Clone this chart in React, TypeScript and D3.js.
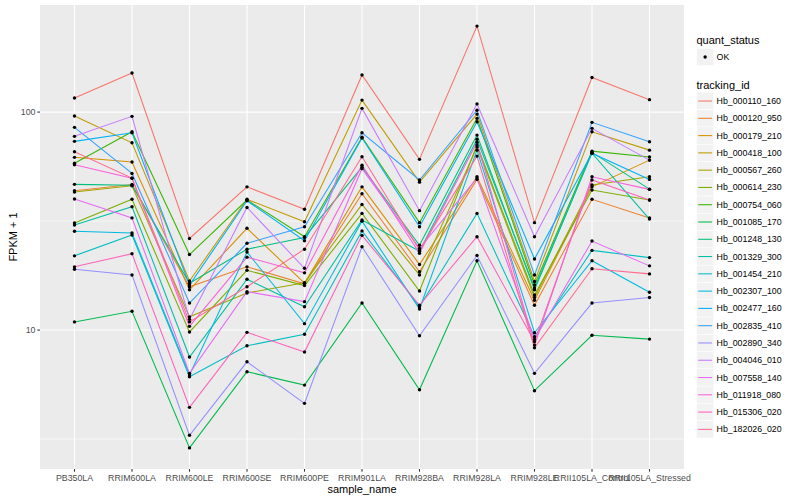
import React from "react";
import * as d3 from "d3";

const samples = [
  "PB350LA", "RRIM600LA", "RRIM600LE", "RRIM600SE", "RRIM600PE", "RRIM901LA",
  "RRIM928BA", "RRIM928LA", "RRIM928LE", "RRII105LA_Control", "RRII105LA_Stressed",
];

const trackingIds = [
  "Hb_000110_160", "Hb_000120_950", "Hb_000179_210", "Hb_000418_100", "Hb_000567_260",
  "Hb_000614_230", "Hb_000754_060", "Hb_001085_170", "Hb_001248_130", "Hb_001329_300",
  "Hb_001454_210", "Hb_002307_100", "Hb_002477_160", "Hb_002835_410", "Hb_002890_340",
  "Hb_004046_010", "Hb_007558_140", "Hb_011918_080", "Hb_015306_020", "Hb_182026_020",
];

// FPKM + 1 per sample, one array per tracking_id
const hb000110_160 = [116, 151, 26.3, 45.4, 35.8, 148, 60.7, 248, 31.1, 144, 114];
const hb000120_950 = [43.6, 46.5, 15.8, 19.5, 16.3, 42.2, 18.5, 49.1, 13.0, 39.8, 32.7];
const hb000179_210 = [62.0, 59.0, 15.3, 29.3, 16.4, 45.4, 20.0, 50.5, 13.7, 45.4, 60.2];
const hb000418_100 = [95.9, 72.3, 16.8, 39.8, 31.4, 113.5, 47.7, 97.9, 16.7, 81.2, 66.9];
const hb000567_260 = [43.0, 45.9, 11.5, 14.8, 16.5, 37.7, 17.9, 69.1, 14.1, 46.3, 50.5];
const hb000614_230 = [31.0, 39.8, 9.8, 18.8, 16.0, 34.3, 15.1, 70.6, 14.5, 43.9, 39.5];
const hb000754_060 = [58.2, 81.2, 22.2, 39.5, 26.8, 76.6, 31.1, 93.6, 16.1, 66.2, 62.2];
const hb001085_170 = [10.9, 12.2, 2.88, 6.44, 5.59, 13.3, 5.32, 20.8, 5.27, 9.46, 9.09];
const hb001248_130 = [46.6, 46.2, 16.4, 23.5, 26.6, 55.9, 24.5, 78.4, 15.3, 65.3, 44.3];
const hb001329_300 = [30.3, 36.8, 7.52, 17.1, 12.8, 32.0, 23.0, 75.0, 15.6, 64.8, 32.3];
const hb001454_210 = [21.9, 27.3, 6.11, 8.47, 9.56, 28.5, 12.8, 34.3, 9.32, 23.2, 21.5];
const hb002307_100 = [28.4, 27.9, 6.22, 22.8, 10.7, 31.6, 12.5, 66.9, 9.72, 20.8, 14.9];
const hb002477_160 = [73.4, 80.4, 16.1, 39.2, 25.7, 76.0, 29.8, 90.3, 21.2, 64.7, 49.1];
const hb002835_410 = [85.1, 52.3, 13.3, 25.0, 29.8, 80.4, 48.8, 102, 17.9, 89.7, 73.1];
const hb002890_340 = [19.0, 17.9, 3.29, 7.15, 4.61, 24.1, 9.42, 22.0, 6.33, 13.3, 14.1];
const hb004046_010 = [77.4, 95.6, 11.2, 36.5, 19.2, 104, 35.3, 109, 26.8, 84.2, 60.2];
const hb007558_140 = [39.9, 32.7, 6.33, 15.0, 13.5, 55.0, 23.7, 49.8, 9.06, 25.6, 19.7];
const hb011918_080 = [57.3, 49.7, 10.4, 21.6, 18.3, 57.1, 22.5, 72.8, 8.53, 50.5, 44.2];
const hb015306_020 = [19.5, 22.4, 4.42, 9.76, 7.93, 27.2, 13.0, 26.8, 8.84, 48.8, 39.5];
const hb182026_020 = [65.8, 49.8, 10.9, 15.8, 23.5, 62.4, 23.3, 62.8, 8.30, 19.1, 18.1];

const seriesValues = [
  hb000110_160, hb000120_950, hb000179_210, hb000418_100, hb000567_260,
  hb000614_230, hb000754_060, hb001085_170, hb001248_130, hb001329_300,
  hb001454_210, hb002307_100, hb002477_160, hb002835_410, hb002890_340,
  hb004046_010, hb007558_140, hb011918_080, hb015306_020, hb182026_020,
];

const yTicks = [10, 100];
const yMinorTicks = [Math.sqrt(10), Math.sqrt(1000)];

const palette = [
  "#F8766D", "#EA8331", "#D89000", "#C09B00", "#A3A500", "#7CAE00", "#39B600",
  "#00BB4E", "#00BF7D", "#00C1A3", "#00BFC4", "#00BAE0", "#00B0F6", "#35A2FF",
  "#9590FF", "#C77CFF", "#E76BF3", "#FA62DB", "#FF62BC", "#FF6C91",
];

const FONT = "'Liberation Sans', Arial, Helvetica, sans-serif";

export default function App() {
  const W = 800, H = 500;
  const left = 40, right = 684, top = 5, bottom = 469;

  const all = seriesValues.flat();
  const lo = Math.log10(d3.min(all) as number);
  const hi = Math.log10(d3.max(all) as number);
  const ex = (hi - lo) * 0.05;

  const x = d3.scalePoint<string>().domain(samples).range([left, right]).padding(0.6);
  const y = d3.scaleLog().domain([10 ** (lo - ex), 10 ** (hi + ex)]).range([bottom, top]);

  const line = d3
    .line<number>()
    .x((_, i) => x(samples[i]) as number)
    .y((v) => y(v));

  const legX = 696.5;
  const keyH = 17.28;
  const keyStart = 92.4;

  return (
    <svg
      width={W}
      height={H}
      style={{ position: "absolute", left: 0, top: 0, background: "#fff" }}
      fontFamily={FONT}
    >
      <rect x={left} y={top} width={right - left} height={bottom - top} fill="#EBEBEB" />
      {yMinorTicks.map((t) => (
        <line key={"mn" + t} x1={left} x2={right} y1={y(t)} y2={y(t)} stroke="#fff" strokeWidth={0.55} />
      ))}
      {yTicks.map((t) => (
        <line key={"mj" + t} x1={left} x2={right} y1={y(t)} y2={y(t)} stroke="#fff" strokeWidth={1.1} />
      ))}
      {samples.map((s) => (
        <line key={"vx" + s} x1={x(s)} x2={x(s)} y1={top} y2={bottom} stroke="#fff" strokeWidth={1.1} />
      ))}

      {seriesValues.map((vals, i) => (
        <path key={"l" + i} d={line(vals) || ""} fill="none" stroke={palette[i]} strokeWidth={1.07} />
      ))}
      {seriesValues.map((vals, i) =>
        vals.map((v, j) => (
          <circle key={"p" + i + "_" + j} cx={x(samples[j])} cy={y(v)} r={1.7} fill="#000" />
        ))
      )}

      {/* y axis */}
      {yTicks.map((t) => (
        <g key={"yt" + t}>
          <line x1={left - 2.7} x2={left} y1={y(t)} y2={y(t)} stroke="#333" strokeWidth={1.07} />
          <text x={left - 4.5} y={y(t)} textAnchor="end" dominantBaseline="central" fontSize={8.8} fill="#4D4D4D">
            {t}
          </text>
        </g>
      ))}
      <text
        transform={`translate(13,${(top + bottom) / 2}) rotate(-90)`}
        textAnchor="middle"
        dominantBaseline="central"
        fontSize={11}
        fill="#000"
      >
        FPKM + 1
      </text>

      {/* x axis */}
      {samples.map((s) => (
        <g key={"xt" + s}>
          <line x1={x(s)} x2={x(s)} y1={bottom} y2={bottom + 2.7} stroke="#333" strokeWidth={1.07} />
          <text x={x(s)} y={bottom + 8.5} textAnchor="middle" dominantBaseline="central" fontSize={8.8} fill="#4D4D4D">
            {s}
          </text>
        </g>
      ))}
      <text x={(left + right) / 2} y={489} textAnchor="middle" dominantBaseline="central" fontSize={11} fill="#000">
        sample_name
      </text>

      {/* legend: quant_status */}
      <text x={legX} y={40} dominantBaseline="central" fontSize={11} fill="#000">
        quant_status
      </text>
      <rect x={legX} y={48.4} width={keyH} height={keyH} fill="#F2F2F2" stroke="#fff" strokeWidth={0.5} />
      <circle cx={legX + keyH / 2} cy={48.4 + keyH / 2} r={1.7} fill="#000" />
      <text x={legX + keyH + 2.8} y={48.4 + keyH / 2} dominantBaseline="central" fontSize={8.8} fill="#000">
        OK
      </text>

      {/* legend: tracking_id */}
      <text x={legX} y={84.5} dominantBaseline="central" fontSize={11} fill="#000">
        tracking_id
      </text>
      {trackingIds.map((id, i) => {
        const ky = keyStart + i * keyH;
        return (
          <g key={"lg" + id}>
            <rect x={legX} y={ky} width={keyH} height={keyH} fill="#F2F2F2" stroke="#fff" strokeWidth={0.5} />
            <line
              x1={legX + 1.7}
              x2={legX + keyH - 1.7}
              y1={ky + keyH / 2}
              y2={ky + keyH / 2}
              stroke={palette[i]}
              strokeWidth={1.07}
            />
            <text x={legX + keyH + 2.8} y={ky + keyH / 2} dominantBaseline="central" fontSize={8.8} fill="#000">
              {id}
            </text>
          </g>
        );
      })}
    </svg>
  );
}
